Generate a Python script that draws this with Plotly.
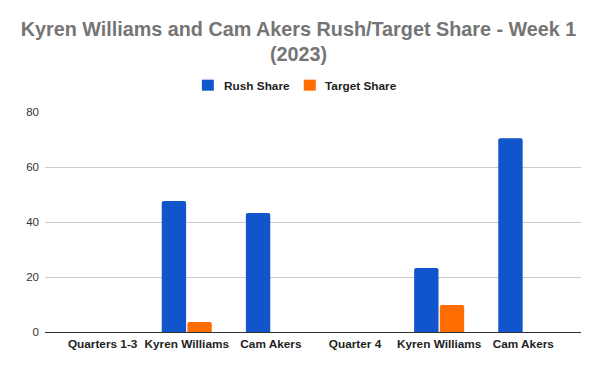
import plotly.graph_objects as go

categories = ["Quarters 1-3", "Kyren Williams", "Cam Akers", "Quarter 4", "Kyren Williams ", "Cam Akers "]
rush_share = [None, 47.6, 43.3, None, 23.3, 70.5]
target_share = [None, 3.6, 0, None, 9.8, 0]
y_ticks = [0, 20, 40, 60, 80]
series_names = ["Rush Share", "Target Share"]
series_colors = ["#1155cc", "#ff6d01"]

FONT = "Liberation Sans, Arial, sans-serif"

# page is offset by the default 8px body margin
OFF = 8
W, H = 600 - OFF, 371 - OFF
PL, PR, PT, PB = 45, 581.5, 112.3, 332  # plot area in page pixels


def px_x(px):
    return (px - PL) / (PR - PL)


def px_y(py):
    return (PB - py) / (PB - PT)


fig = go.Figure()
for name, vals, col in zip(series_names, [rush_share, target_share], series_colors):
    fig.add_trace(go.Bar(x=categories, y=vals, name=name,
                         marker=dict(color=col, line=dict(width=0), cornerradius=2)))

# manual legend (square + label)
legend_items = [(202, 222), (304, 323)]
for (sqx, tx), name, col in zip(legend_items, series_names, series_colors):
    fig.add_shape(type="rect", xref="paper", yref="paper",
                  x0=px_x(sqx), x1=px_x(sqx + 12), y0=px_y(91), y1=px_y(80),
                  fillcolor=col, line=dict(width=0))
    fig.add_annotation(text=f"<b>{name}</b>", xref="paper", yref="paper",
                       x=px_x(tx), y=px_y(86), xanchor="left", yanchor="middle",
                       showarrow=False,
                       font=dict(family=FONT, size=11.8, color="#222222"))

fig.update_layout(
    width=W, height=H,
    margin=dict(l=PL - OFF, r=600 - PR, t=PT - OFF, b=371 - PB, autoexpand=False, pad=0),
    paper_bgcolor="white", plot_bgcolor="white",
    font=dict(family=FONT, size=11, color="#222222"),
    title=dict(
        text="<b>Kyren Williams and Cam Akers Rush/Target Share - Week 1<br>(2023)</b>",
        x=(298.5 - OFF) / W, xanchor="center", y=1 - (35.5 - OFF) / H, yanchor="middle",
        font=dict(family=FONT, size=19.8, color="#757575"),
    ),
    showlegend=False,
    barmode="group", bargap=0.39, bargroupgap=0.05,
)
fig.update_xaxes(
    type="category", range=[-0.685, 5.686], showgrid=False, showline=False,
    ticks="", tickangle=0, automargin=False, ticklabelstandoff=3,
    tickfont=dict(family=FONT, size=11.8, color="#222222", weight="bold"),
    tickvals=categories, ticktext=[c.strip() for c in categories],
)
fig.update_yaxes(
    range=[0, 80], tickvals=y_ticks, showgrid=True, gridcolor="#cccccc", gridwidth=1,
    zeroline=True, zerolinecolor="#333333", zerolinewidth=1.3, showline=False,
    ticks="", ticklabelstandoff=5, automargin=False,
    tickfont=dict(family=FONT, size=11.5, color="#333333"),
)

fig.write_html("out.html")
